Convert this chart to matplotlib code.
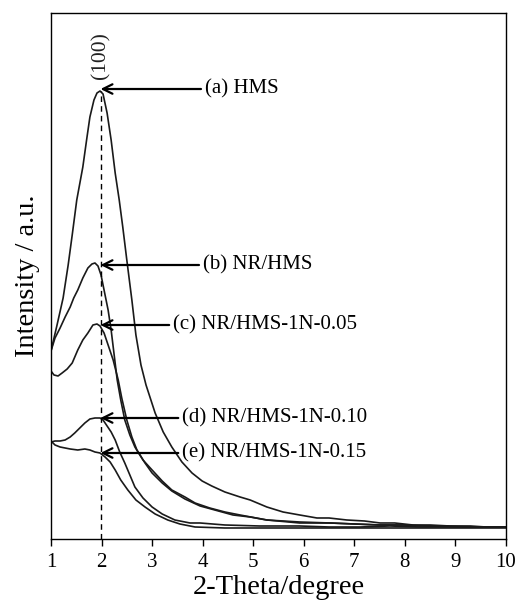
import matplotlib
matplotlib.use("Agg")
import matplotlib.pyplot as plt
import numpy as np

plt.rcParams['font.family'] = ['Liberation Serif', 'DejaVu Serif']

# XRD patterns (2-theta in degrees, intensity in arbitrary units)
x_hms = [1.00, 1.12, 1.24, 1.34, 1.42, 1.51, 1.63, 1.71, 1.77, 1.85, 1.91, 1.97,
         2.03, 2.11, 2.19, 2.27, 2.35, 2.42, 2.50, 2.60, 2.68, 2.78, 2.88, 3.06,
         3.22, 3.39, 3.59, 3.79, 3.99, 4.18, 4.44, 4.74, 4.94, 5.27, 5.59, 5.92,
         6.26, 6.50, 6.85, 7.20, 7.51, 7.80, 8.16, 8.50, 8.89, 9.30, 9.60, 10.00]
y_hms = [188, 214, 241, 274, 304, 339, 372, 401, 422, 439, 446, 448,
         445, 426, 399, 366, 339, 312, 279, 239, 204, 174, 154, 126,
         107, 92, 77, 66, 58, 53, 47, 42, 39, 32, 27, 24,
         21, 21, 19, 18, 16, 16, 14, 14, 13, 13, 12, 12]

x_nr = [1.00, 1.08, 1.18, 1.28, 1.38, 1.45, 1.53, 1.63, 1.73, 1.81, 1.87, 1.93,
        1.99, 2.05, 2.13, 2.19, 2.25, 2.31, 2.38, 2.46, 2.56, 2.66, 2.82, 3.00,
        3.20, 3.39, 3.65, 3.85, 4.14, 4.44, 4.74, 5.27, 5.92, 6.52, 7.00, 7.51,
        8.00, 8.30, 8.80, 9.40, 10.00]
y_nr = [188, 201, 211, 222, 232, 241, 249, 261, 271, 275, 276, 273,
        264, 249, 229, 209, 184, 159, 139, 119, 104, 92, 79, 69,
        58, 49, 42, 36, 31, 27, 24, 19, 16, 16, 15, 14,
        14, 13, 13, 12, 12]

x_n005 = [1.00, 1.06, 1.14, 1.22, 1.32, 1.42, 1.53, 1.63, 1.73, 1.83, 1.91, 1.97,
          2.05, 2.13, 2.23, 2.33, 2.40, 2.50, 2.60, 2.70, 2.86, 3.00, 3.20, 3.39,
          3.65, 3.95, 4.24, 4.60, 4.94, 5.27, 5.92, 6.52, 7.00, 7.51, 8.00, 8.50,
          9.20, 10.00]
y_n005 = [168, 164, 163, 166, 170, 176, 189, 199, 206, 214, 215, 213,
          206, 194, 179, 159, 141, 119, 102, 89, 76, 66, 56, 48,
          40, 33, 29, 24, 22, 19, 17, 16, 15, 14, 14, 13,
          12, 12]

x_n010 = [1.00, 1.08, 1.18, 1.28, 1.38, 1.47, 1.57, 1.67, 1.77, 1.87, 1.97, 2.03,
          2.11, 2.19, 2.27, 2.36, 2.46, 2.56, 2.66, 2.82, 3.00, 3.20, 3.45, 3.75,
          3.95, 4.44, 5.13, 5.92, 6.50, 7.11, 7.70, 8.30, 9.00, 10.00]
y_n010 = [97, 98, 98, 99, 102, 106, 111, 116, 120, 121, 121, 119,
          113, 107, 99, 87, 76, 64, 52, 41, 32, 25, 19, 16,
          16, 14, 13, 13, 12, 12, 13, 12, 12, 12]

x_n015 = [1.00, 1.08, 1.18, 1.28, 1.38, 1.53, 1.67, 1.77, 1.87, 1.97, 2.07, 2.17,
          2.27, 2.38, 2.52, 2.68, 2.86, 3.06, 3.31, 3.55, 3.85, 4.44, 5.20, 5.92,
          6.80, 7.90, 9.00, 10.00]
y_n015 = [98, 94, 92, 91, 90, 89, 90, 89, 87, 86, 82, 77,
          69, 59, 49, 39, 32, 25, 19, 15, 12, 11, 11, 11,
          11, 11, 11, 11]

series_x = [x_hms, x_nr, x_n005, x_n010, x_n015]
series_y = [y_hms, y_nr, y_n005, y_n010, y_n015]
labels = ["(a) HMS", "(b) NR/HMS", "(c) NR/HMS-1N-0.05",
          "(d) NR/HMS-1N-0.10", "(e) NR/HMS-1N-0.15"]

peak_pos = 1.98          # (100) reflection
label_y = [450, 274, 214, 121, 86]
label_x = [4.05, 4.01, 3.42, 3.60, 3.60]
xticks = list(range(1, 11))

fig = plt.figure(figsize=(5.17, 6.08), dpi=100)
ax = fig.add_axes([0.0986, 0.1135, 0.8801, 0.8651])

for xs, ys in zip(series_x, series_y):
    ax.plot(xs, ys, color='#1a1a1a', lw=1.2)

ax.plot([peak_pos, peak_pos], [0, 448], color='black', lw=1.0,
        linestyle=(0, (4, 3)))

ax.text(peak_pos, 460, "(100)", rotation=90, ha='center', va='bottom',
        fontsize=15.5, color='#222222')

for lab, lx, ly in zip(labels, label_x, label_y):
    ax.annotate(lab, xy=(peak_pos, ly), xytext=(lx, ly),
                ha='left', va='center', fontsize=15,
                arrowprops=dict(arrowstyle='->', lw=1.6, color='black',
                                mutation_scale=17, shrinkA=1, shrinkB=0))

ax.set_xlim(1, 10)
ax.set_ylim(0, 526)
ax.set_xticks(xticks)
ax.set_xticklabels([str(t) for t in xticks], fontsize=15)
ax.set_yticks([])
ax.tick_params(axis='x', direction='out', length=5, width=1, pad=5)
for s in ax.spines.values():
    s.set_linewidth(1.0)

ax.set_xlabel("2-Theta/degree", fontsize=20.5, labelpad=2)
ax.set_ylabel("Intensity / a.u.", fontsize=20.5, labelpad=8)

fig.savefig("out.png", dpi=100)
